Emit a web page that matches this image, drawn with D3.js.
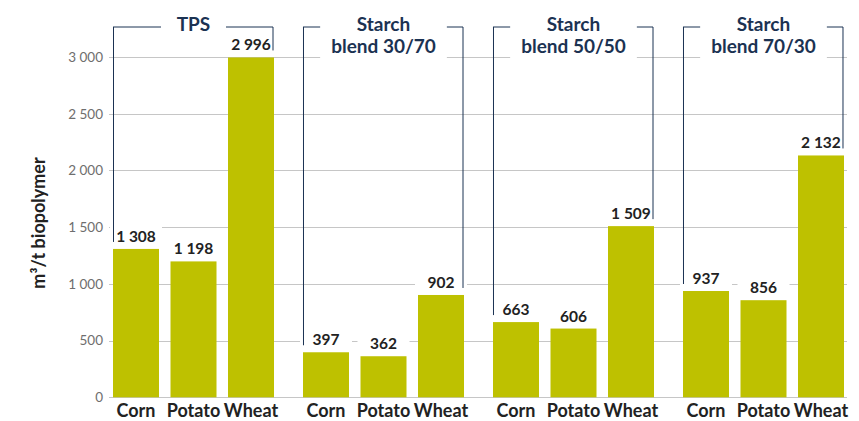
<!DOCTYPE html>
<html>
<head>
<meta charset="utf-8">
<script src="https://cdn.jsdelivr.net/npm/d3@7"></script>
<style>
  html, body { margin: 0; padding: 0; background: #fff; }
  svg { display: block; font-family: Lato, "Open Sans", sans-serif; }
</style>
</head>
<body>
<svg id="chart" width="859" height="421"></svg>
<script>
// Biogas yield per tonne of biopolymer, by starch source
const groups = ["TPS", "Starch blend 30/70", "Starch blend 50/50", "Starch blend 70/30"];
const groupTitleLines = [["TPS"], ["Starch", "blend 30/70"], ["Starch", "blend 50/50"], ["Starch", "blend 70/30"]];
const crops = ["Corn", "Potato", "Wheat"];
const cornValues   = [1308, 397, 663, 937];
const potatoValues = [1198, 362, 606, 856];
const wheatValues  = [2996, 902, 1509, 2132];
const yTicks = [0, 500, 1000, 1500, 2000, 2500, 3000];
const yTitle = "m³/t biopolymer";

const seriesByCrop = { Corn: cornValues, Potato: potatoValues, Wheat: wheatValues };
const rows = groups.map((g, gi) => ({
  group: g,
  titleLines: groupTitleLines[gi],
  bars: crops.map(c => ({ crop: c, value: seriesByCrop[c][gi] }))
}));

const svg = d3.select("#chart");
const barColor = "#bec100";
const navy = "#1b3252";
const gridColor = "#c6c6c6";

const locale = d3.formatLocale({ decimal: ",", thousands: " ", grouping: [3], currency: ["", ""] });
const fmt = locale.format(",d");

const plotLeft = 113, plotRight = 844, gridRight = 847;
const y = d3.scaleLinear().domain([0, 3000]).range([397.3, 57]);

const x0 = d3.scaleBand().domain(groups).range([plotLeft, plotRight]).paddingInner(0.1526);
const x1 = d3.scaleBand().domain(crops).range([0, x0.bandwidth()]).paddingInner(0.2);

// gridlines with short ticks on the left
const grid = svg.append("g");
grid.selectAll("line").data(yTicks).join("line")
  .attr("x1", plotLeft - 4).attr("x2", gridRight)
  .attr("y1", d => Math.round(y(d)) + 0.5).attr("y2", d => Math.round(y(d)) + 0.5)
  .attr("stroke", gridColor).attr("stroke-width", 1);

// y tick labels
svg.append("g").selectAll("text").data(yTicks).join("text")
  .attr("x", 103).attr("y", d => y(d) + 4.8)
  .attr("text-anchor", "end")
  .attr("font-size", 13.5).attr("fill", "#6e6e6e")
  .text(d => fmt(d));

// y axis title
svg.append("text")
  .attr("transform", `translate(44.5,${223}) rotate(-90)`)
  .attr("text-anchor", "middle")
  .attr("font-size", 18).attr("font-weight", 700).attr("fill", "#222")
  .text(yTitle);

const gSel = svg.append("g").selectAll("g").data(rows).join("g")
  .attr("transform", d => `translate(${x0(d.group)},0)`);

// white boxes behind value labels (they interrupt the gridlines)
gSel.selectAll("rect.lblbox").data(d => d.bars).join("rect")
  .attr("class", "lblbox")
  .attr("x", d => x1(d.crop) - 3).attr("width", x1.bandwidth() + 6)
  .attr("y", d => y(d.value) - 22).attr("height", 17)
  .attr("fill", "#fff");

// bars
gSel.selectAll("rect.bar").data(d => d.bars).join("rect")
  .attr("class", "bar")
  .attr("x", d => x1(d.crop)).attr("width", x1.bandwidth())
  .attr("y", d => y(d.value)).attr("height", d => y(0) - y(d.value))
  .attr("fill", barColor);

// group brackets
gSel.each(function(d) {
  const g = d3.select(this);
  const left = 0, right = x1("Wheat") + x1.bandwidth() - 1;
  const topY = 27;
  const first = d.bars[0], last = d.bars[d.bars.length - 1];
  g.append("line")
    .attr("x1", left + 0.5).attr("x2", left + 0.5)
    .attr("y1", topY).attr("y2", y(first.value) - 7)
    .attr("stroke", navy).attr("stroke-width", 1);
  g.append("line")
    .attr("x1", right).attr("x2", right)
    .attr("y1", topY).attr("y2", y(last.value) - 7)
    .attr("stroke", navy).attr("stroke-width", 1);
  g.append("line")
    .attr("x1", left).attr("x2", right)
    .attr("y1", topY).attr("y2", topY)
    .attr("stroke", navy).attr("stroke-width", 1);

  // title with white backing box
  const cx = x0.bandwidth() / 2;
  const box = g.append("rect").attr("fill", "#fff");
  const t = g.append("text")
    .attr("text-anchor", "middle")
    .attr("font-size", 19).attr("font-weight", 700).attr("fill", navy);
  t.selectAll("tspan").data(d.titleLines).join("tspan")
    .attr("x", cx).attr("y", (s, i) => 30.7 + i * 22.6)
    .text(s => s);
  const bb = t.node().getBBox();
  const w = Math.max(bb.width + 22, 65);
  const h = d.titleLines.length > 1 ? 54 : 20;
  box.attr("x", cx - w / 2).attr("width", w).attr("y", 8).attr("height", h);
});

// value labels
gSel.selectAll("text.val").data(d => d.bars).join("text")
  .attr("class", "val")
  .attr("x", d => x1(d.crop) + x1.bandwidth() / 2)
  .attr("y", d => y(d.value) - 7)
  .attr("text-anchor", "middle")
  .attr("font-size", 15.5).attr("font-weight", 700).attr("fill", "#222")
  .text(d => fmt(d.value));

// crop labels
gSel.selectAll("text.cat").data(d => d.bars).join("text")
  .attr("class", "cat")
  .attr("x", d => x1(d.crop) + x1.bandwidth() / 2)
  .attr("y", 416.5)
  .attr("text-anchor", "middle")
  .attr("font-size", 18).attr("font-weight", 700).attr("fill", "#222")
  .text(d => d.crop);
</script>
</body>
</html>
